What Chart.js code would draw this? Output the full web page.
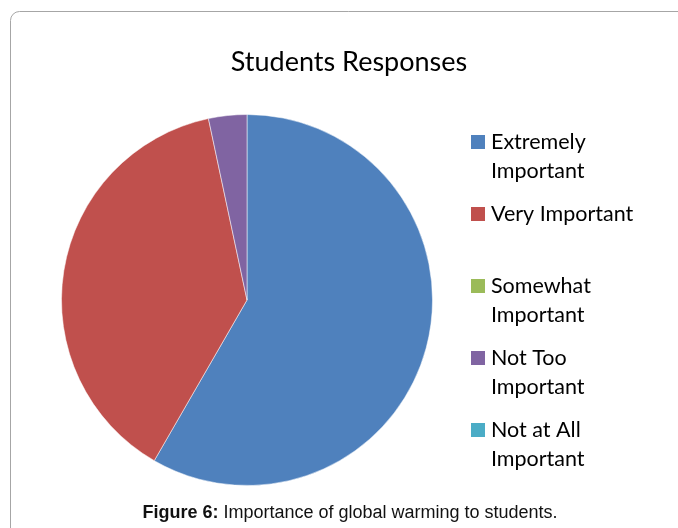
<!DOCTYPE html>
<html>
<head>
<meta charset="utf-8">
<script src="https://cdn.jsdelivr.net/npm/chart.js@4/dist/chart.umd.min.js"></script>
<style>
  html, body { margin: 0; padding: 0; background: #fff; }
  #wrap { position: relative; width: 678px; height: 528px; }
</style>
</head>
<body>
<div id="wrap"><canvas id="c" width="678" height="528"></canvas></div>
<script>
// Survey: how important is global warming to students
const chartTitle = 'Students Responses';
const categories = ['Extremely Important', 'Very Important', 'Somewhat Important', 'Not Too Important', 'Not at All Important'];
const responses = [35, 23, 0, 2, 0];
const sliceColors = ['#4F81BD', '#C0504D', '#9BBB59', '#8064A2', '#4BACC6'];
const captionLabel = 'Figure 6:';
const captionText = ' Importance of global warming to students.';

const FONT = 'Lato, Carlito, "Open Sans", sans-serif';
const CAPTION_FONT = '"Liberation Sans", Arial, sans-serif';

function wrapWords(ctx, text, maxWidth) {
  const words = text.split(' ');
  const lines = [];
  let line = '';
  for (const w of words) {
    const test = line ? line + ' ' + w : w;
    if (line && ctx.measureText(test).width > maxWidth) {
      lines.push(line);
      line = w;
    } else {
      line = test;
    }
  }
  if (line) lines.push(line);
  return lines;
}

// Frame, title, side legend and figure caption
const decorations = {
  id: 'decorations',
  beforeDraw(chart) {
    const ctx = chart.ctx;
    ctx.save();
    ctx.strokeStyle = '#a6a6a6';
    ctx.lineWidth = 1;
    ctx.beginPath();
    ctx.moveTo(10.5, 528);
    ctx.lineTo(10.5, 20.5);
    ctx.arcTo(10.5, 11.5, 19.5, 11.5, 9);
    ctx.lineTo(678, 11.5);
    ctx.stroke();
    ctx.restore();
  },
  afterDraw(chart) {
    const ctx = chart.ctx;
    ctx.save();
    ctx.fillStyle = '#000';
    ctx.textAlign = 'center';
    ctx.textBaseline = 'middle';
    ctx.font = '27px ' + FONT;
    ctx.fillText(chartTitle, 349, 62);

    // legend
    const items = chart.options.plugins.legend.labels.generateLabels(chart);
    ctx.font = '21.5px ' + FONT;
    ctx.textAlign = 'left';
    items.forEach((item, i) => {
      const y0 = 142 + 72 * i;
      ctx.fillStyle = item.fillStyle;
      ctx.fillRect(471, y0 - 7, 14, 14);
      ctx.fillStyle = '#000';
      const lines = wrapWords(ctx, item.text, 160);
      lines.forEach((ln, k) => ctx.fillText(ln, 491, y0 + 29 * k));
    });

    // caption
    ctx.fillStyle = '#111';
    ctx.textBaseline = 'middle';
    ctx.font = 'bold 18px ' + CAPTION_FONT;
    const w1 = ctx.measureText(captionLabel).width;
    ctx.font = '18px ' + CAPTION_FONT;
    const w2 = ctx.measureText(captionText).width;
    const x0 = 350 - (w1 + w2) / 2;
    ctx.font = 'bold 18px ' + CAPTION_FONT;
    ctx.fillText(captionLabel, x0, 513);
    ctx.font = '18px ' + CAPTION_FONT;
    ctx.fillText(captionText, x0 + w1, 513);
    ctx.restore();
  }
};

new Chart(document.getElementById('c'), {
  type: 'pie',
  data: {
    labels: categories,
    datasets: [{
      data: responses,
      backgroundColor: sliceColors,
      borderColor: 'rgba(255,255,255,0.5)',
      borderWidth: 1
    }]
  },
  options: {
    responsive: false,
    animation: false,
    layout: { padding: { left: 61, right: 245, top: 114, bottom: 42 } },
    plugins: {
      legend: { display: false },
      tooltip: { enabled: false },
      title: { display: false }
    }
  },
  plugins: [decorations]
});
</script>
</body>
</html>
